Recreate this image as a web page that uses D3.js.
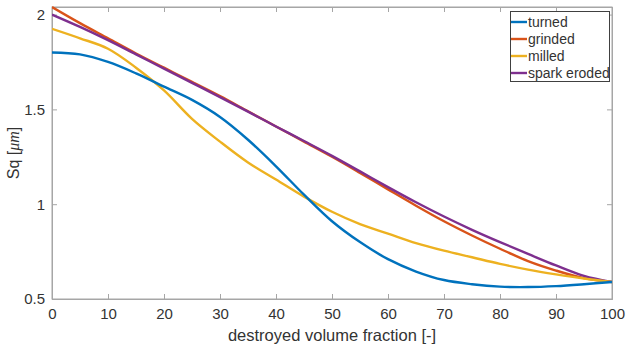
<!DOCTYPE html>
<html><head><meta charset="utf-8">
<script src="https://cdn.jsdelivr.net/npm/d3@7"></script>
<style>body{margin:0;background:#fff}svg{display:block}text{font-family:"Liberation Sans",Arial,sans-serif}</style>
</head><body><svg id="c" width="629" height="348"></svg>
<script>
const xValues = [0,5,10,15,20,25,30,35,40,45,50,55,60,65,70,75,80,85,90,95,100];
const turned  = [1.80,1.79,1.75,1.69,1.62,1.55,1.46,1.34,1.20,1.05,0.91,0.80,0.71,0.645,0.60,0.578,0.565,0.563,0.568,0.578,0.59];
const grinded = [2.04,1.955,1.875,1.795,1.72,1.645,1.57,1.49,1.41,1.33,1.25,1.165,1.078,0.992,0.91,0.835,0.765,0.70,0.65,0.61,0.59];
const milled  = [1.925,1.875,1.82,1.72,1.60,1.45,1.33,1.22,1.13,1.04,0.96,0.895,0.845,0.795,0.755,0.72,0.685,0.655,0.63,0.608,0.59];
const sparkEroded = [2.00,1.935,1.865,1.79,1.715,1.64,1.565,1.488,1.41,1.333,1.255,1.173,1.09,1.01,0.935,0.865,0.80,0.738,0.677,0.622,0.59];
const seriesNames = ["turned","grinded","milled","spark eroded"];
const seriesColors = ["#0072BD","#D95319","#EDB120","#7E2F8E"];
const xTicks = [0,10,20,30,40,50,60,70,80,90,100];
const yTicks = [0.5,1,1.5,2];
const xLabel = "destroyed volume fraction [-]";

const svg = d3.select("#c");
const m = {l:52, r:17, t:7, b:49};
const W = 629, H = 348;
const x = d3.scaleLinear().domain([0,100]).range([m.l, W-m.r]);
const y = d3.scaleLinear().domain([0.5,2.04]).range([H-m.b, m.t]);
const axisCol = "#a6a6a6", textCol = "#333333";

svg.append("rect").attr("x",x(0)).attr("y",y(2.04)).attr("width",x(100)-x(0)).attr("height",y(0.5)-y(2.04))
  .attr("fill","#fff").attr("stroke",axisCol).attr("stroke-width",1);

const gx = svg.append("g").attr("transform",`translate(0,${y(0.5)})`)
  .call(d3.axisBottom(x).tickValues(xTicks).tickSize(-5).tickPadding(9).tickFormat(d3.format("d")));
const gxt = svg.append("g").attr("transform",`translate(0,${y(2.04)})`)
  .call(d3.axisTop(x).tickValues(xTicks).tickSize(-5).tickFormat(""));
const gy = svg.append("g").attr("transform",`translate(${x(0)},0)`)
  .call(d3.axisLeft(y).tickValues(yTicks).tickSize(-5).tickPadding(7).tickFormat(d=>String(d)));
const gyr = svg.append("g").attr("transform",`translate(${x(100)},0)`)
  .call(d3.axisRight(y).tickValues(yTicks).tickSize(-5).tickFormat(""));
[gx,gxt,gy,gyr].forEach(g=>{
  g.select(".domain").attr("stroke",axisCol);
  g.selectAll(".tick line").attr("stroke",axisCol);
  g.selectAll(".tick text").attr("fill",textCol).attr("font-size",15).attr("font-family","Liberation Sans, Arial, sans-serif");
});

svg.append("text").attr("x",(x(0)+x(100))/2).attr("y",341).attr("text-anchor","middle")
  .attr("fill",textCol).attr("font-size",16.5).text(xLabel);
const yl = svg.append("text").attr("transform",`translate(19,${(y(0.5)+y(2.04))/2}) rotate(-90)`).attr("text-anchor","middle")
  .attr("fill",textCol).attr("font-size",16);
yl.append("tspan").text("Sq [");
yl.append("tspan").attr("font-style","italic").attr("font-family","Liberation Serif, serif").text("\u03BC");
yl.append("tspan").attr("font-style","italic").attr("font-family","Liberation Serif, serif").text("m");
yl.append("tspan").text("]");

const data = [turned, grinded, milled, sparkEroded];
const line = d3.line().x((d,i)=>x(xValues[i])).y(d=>y(d)).curve(d3.curveCatmullRom.alpha(0.5));
svg.append("clipPath").attr("id","pc").append("rect")
  .attr("x",x(0)).attr("y",y(2.04)-2).attr("width",x(100)-x(0)).attr("height",y(0.5)-y(2.04)+2);
const pl = svg.append("g").attr("clip-path","url(#pc)");
[1,3,2,0].forEach(k=>{
  pl.append("path").datum(data[k]).attr("d",line).attr("fill","none")
    .attr("stroke",seriesColors[k]).attr("stroke-width",2.4).attr("stroke-linejoin","round");
});

const lg = svg.append("g");
lg.append("rect").attr("x",510.5).attr("y",11.5).attr("width",99).attr("height",70)
  .attr("fill","#fff").attr("stroke","#404040").attr("stroke-width",1);
seriesNames.forEach((n,i)=>{
  const yy = 22 + i*17;
  lg.append("line").attr("x1",511).attr("x2",527).attr("y1",yy).attr("y2",yy)
    .attr("stroke",seriesColors[i]).attr("stroke-width",2.4);
  lg.append("text").attr("x",528).attr("y",yy+5).attr("font-size",14).attr("fill",textCol).text(n);
});
</script></body></html>
